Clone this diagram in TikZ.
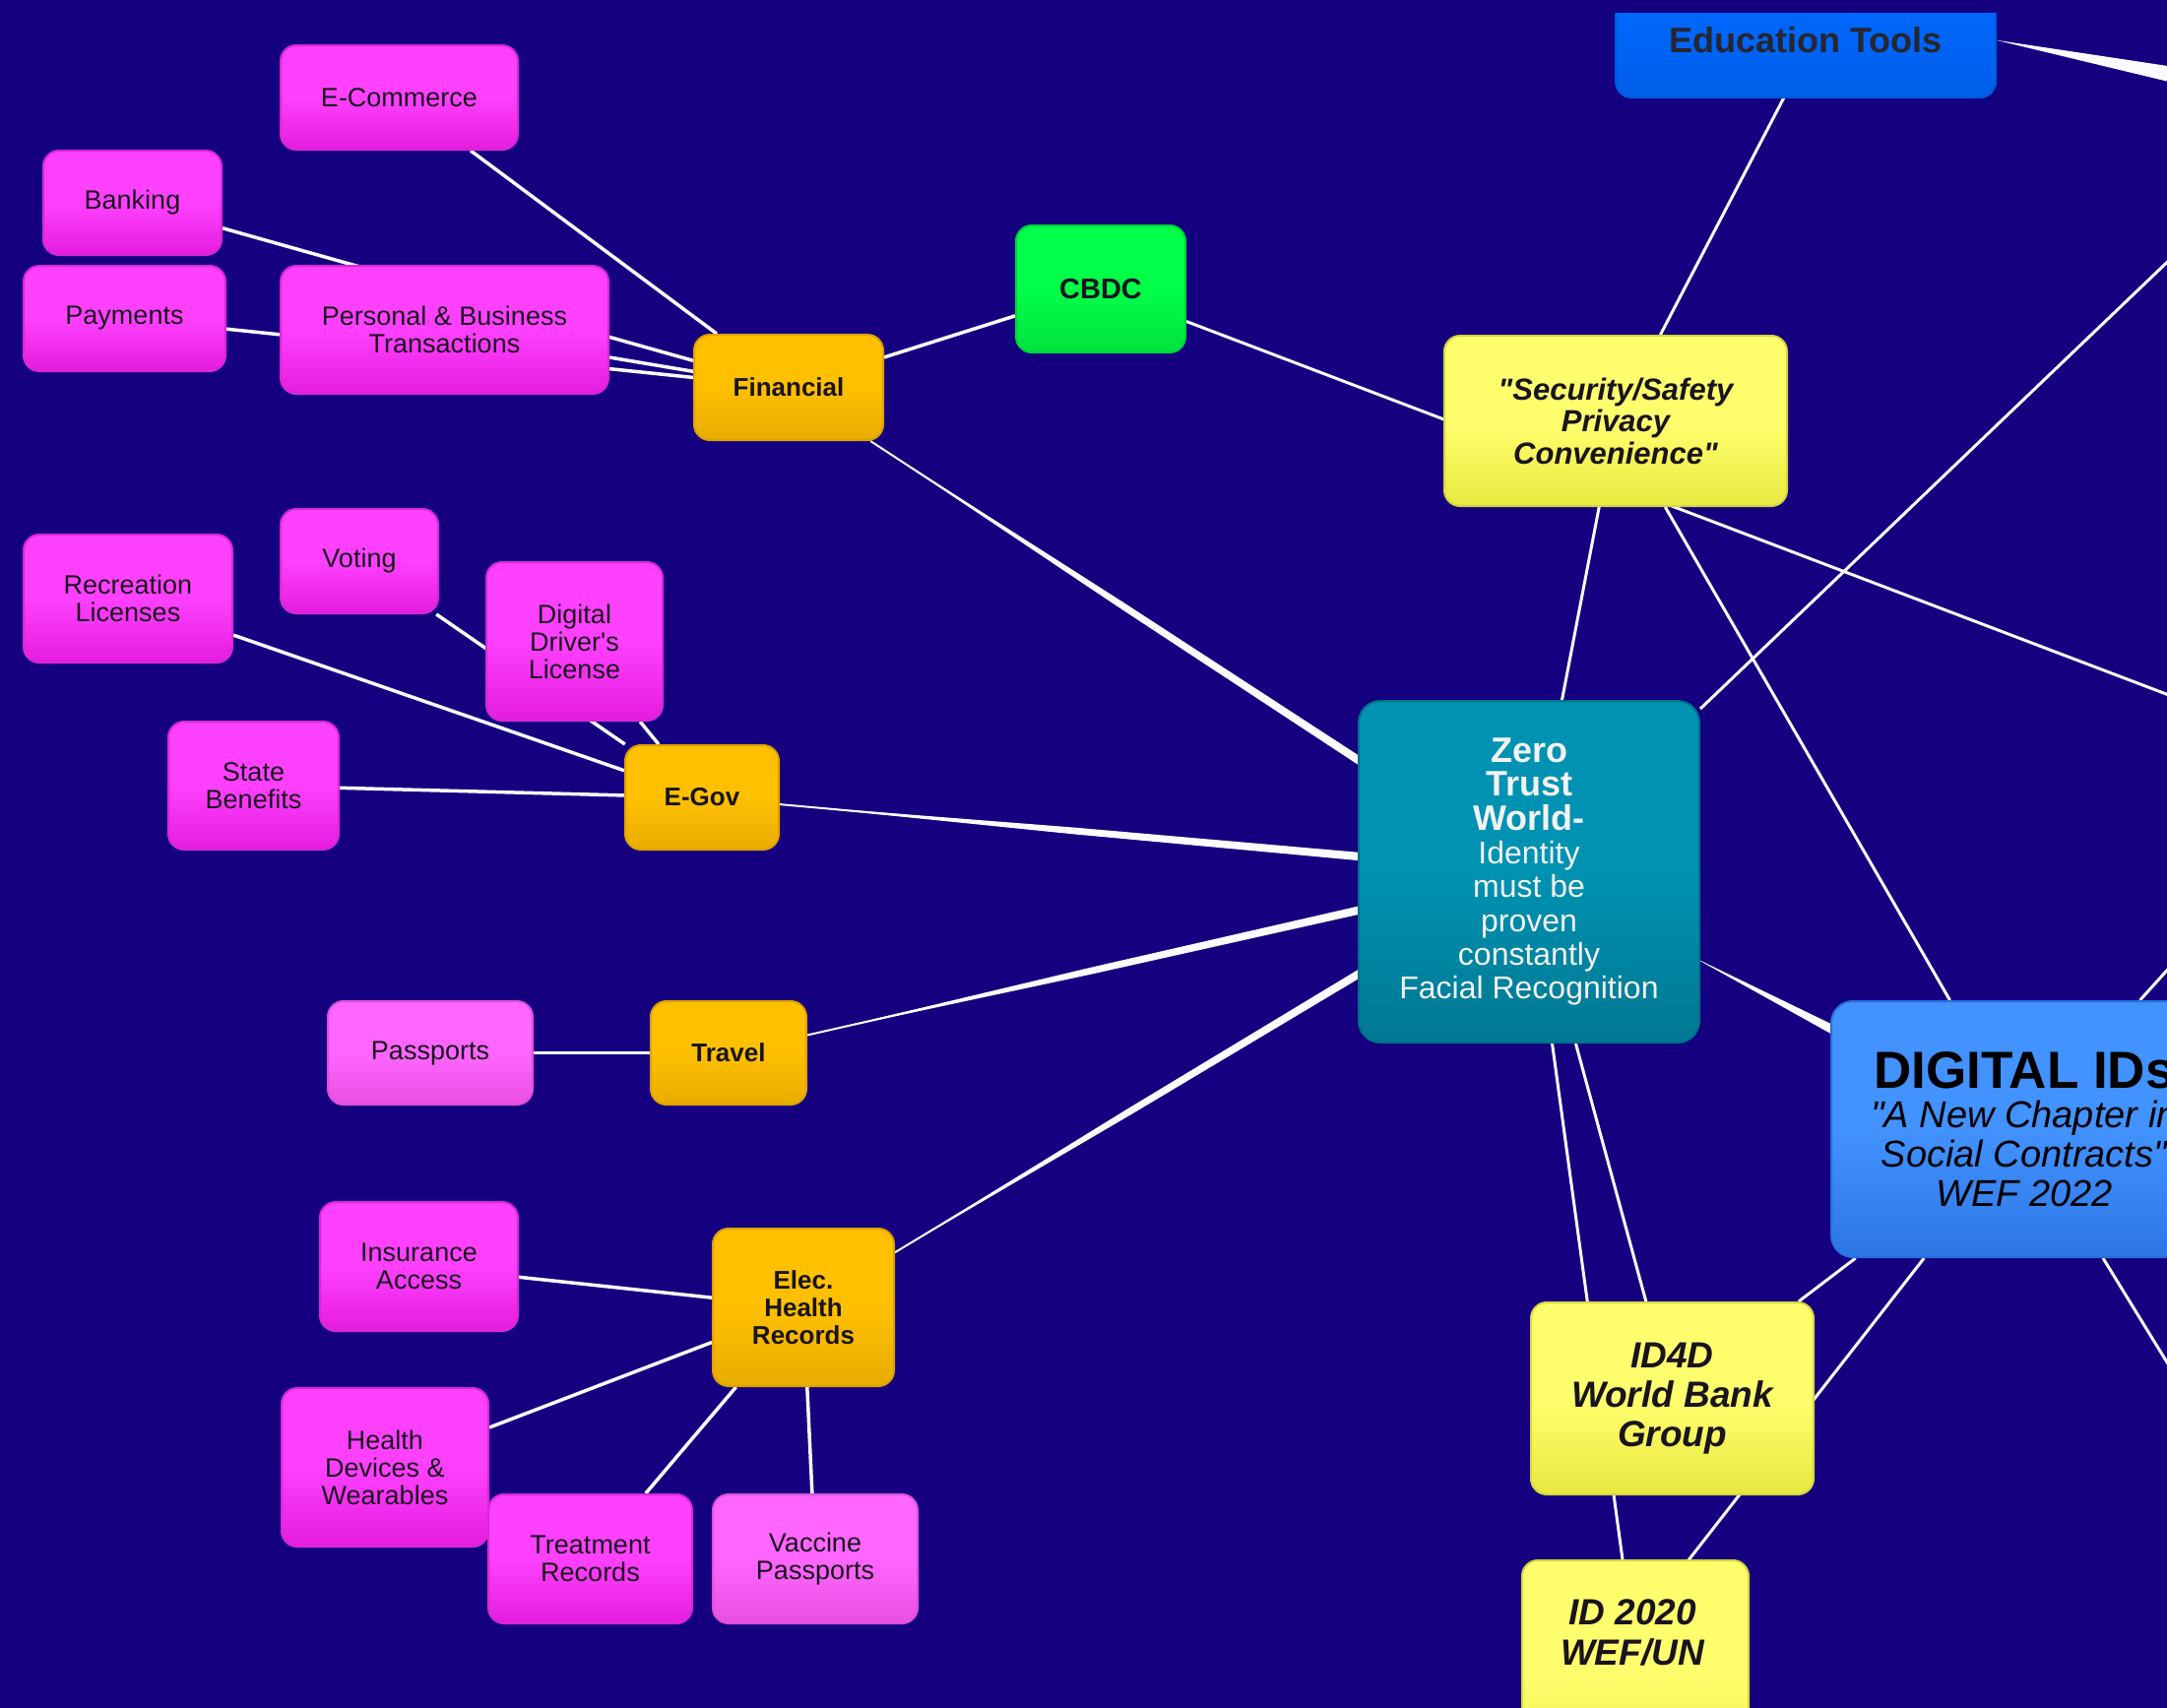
\documentclass[tikz,border=0pt]{standalone}
\usepackage{fontspec}
\setmainfont{Liberation Sans}[Ligatures=TeXOff]
\usetikzlibrary{calc}
\pgfdeclarelayer{background}
\pgfsetlayers{background,main}

\definecolor{bg}{RGB}{21,0,128}
\definecolor{edgec}{RGB}{250,250,255}
\definecolor{leafT}{RGB}{255,64,255}
\definecolor{leafBot}{RGB}{228,28,222}
\definecolor{leafB}{RGB}{214,40,214}
\definecolor{leafLT}{RGB}{255,102,255}
\definecolor{leafLBot}{RGB}{232,80,224}
\definecolor{leafLB}{RGB}{220,80,220}
\definecolor{orgT}{RGB}{255,192,0}
\definecolor{orgBot}{RGB}{232,172,0}
\definecolor{orgB}{RGB}{222,162,0}
\definecolor{grT}{RGB}{0,255,72}
\definecolor{grBot}{RGB}{0,226,62}
\definecolor{grB}{RGB}{0,210,60}
\definecolor{yeT}{RGB}{255,255,110}
\definecolor{yeBot}{RGB}{232,232,64}
\definecolor{yeB}{RGB}{214,214,64}
\definecolor{etT}{RGB}{0,104,255}
\definecolor{etBot}{RGB}{0,94,232}
\definecolor{etB}{RGB}{0,88,220}
\definecolor{digT}{RGB}{66,146,255}
\definecolor{digBot}{RGB}{44,118,228}
\definecolor{digB}{RGB}{40,110,220}
\definecolor{ztT}{RGB}{0,146,178}
\definecolor{ztBot}{RGB}{0,120,146}
\definecolor{ztB}{RGB}{0,112,138}
\definecolor{txt}{RGB}{25,20,30}
\definecolor{ettxt}{RGB}{38,38,48}
\definecolor{ztTxt}{RGB}{242,242,242}

% tapered connector: from #1 towards #2; starts (width 0) at fraction #3,
% half-width #5 at fraction #4, half-width #6 at #2
\newcommand\wedgeedge[6]{%
  \coordinate (w0) at ($(#1)!#3!(#2)$);
  \coordinate (wm) at ($(#1)!#4!(#2)$);
  \fill[edgec] (w0) -- ($(wm)!#5pt!90:(#2)$) -- ($(#2)!#6pt!-90:(#1)$)
     -- ($(#2)!#6pt!90:(#1)$) -- ($(wm)!#5pt!-90:(#2)$) -- cycle;}
\newcommand\ztbold[1]{{\bfseries\fontsize{36}{34.3}\selectfont #1}}

\tikzset{
  sz/.style 2 args={minimum width=#1pt, minimum height=#2pt},
  leafedge/.style={draw=edgec, line width=3.5pt},
  longedge/.style={draw=edgec, line width=3pt},
  thinedge/.style={draw=edgec, line width=2pt},
  box/.style={rounded corners=16pt, inner sep=0pt, align=center, line width=2pt},
  leaf/.style={box, draw=leafB, top color=leafT, bottom color=leafBot, middle color=leafT,
    text=txt, font=\fontsize{27}{28}\selectfont},
  leaflt/.style={leaf, draw=leafLB, top color=leafLT, bottom color=leafLBot, middle color=leafLT},
  catg/.style={box, draw=orgB, top color=orgT, bottom color=orgBot, middle color=orgT,
    text=txt, font=\bfseries\fontsize{26}{28}\selectfont},
  cbdcbox/.style={box, draw=grB, top color=grT, bottom color=grBot, middle color=grT,
    text=txt, font=\bfseries\fontsize{29}{30}\selectfont},
  yellowbox/.style={box, draw=yeB, top color=yeT, bottom color=yeBot, middle color=yeT, text=txt},
  etbox/.style={box, draw=etB, top color=etT, bottom color=etBot, middle color=etT},
  digbox/.style={box, rounded corners=22pt, draw=digB, top color=digT, bottom color=digBot,
    middle color=digT, text=black, font=\fontsize{38}{40}\selectfont},
  ztbox/.style={box, rounded corners=22pt, draw=ztB, top color=ztT, bottom color=ztBot,
    middle color=ztT, text=ztTxt, font=\fontsize{32}{34.3}\selectfont},
}

\begin{document}
\begin{tikzpicture}[x=1pt, y=-1pt]
\useasboundingbox (0,0) rectangle (2201,1735);

% ---------- nodes ----------
\node[leaf, sz={241}{106}] (ecom) at (405.5,99) {E-Commerce};
\node[leaf, sz={181}{106}] (bank) at (134.5,206) {Banking};
\node[leaf, sz={205}{107}] (pay) at (126.5,323.5) {Payments};
\node[leaf, sz={333}{130}] (pb) at (451.5,335) {Personal \& Business\\Transactions};
\node[catg, sz={192}{107}] (fin) at (801,393.5) {Financial};
\node[cbdcbox, sz={172}{129}] (cbdc) at (1118,293.5) {CBDC};
\node[yellowbox, sz={348}{173}, font=\bfseries\itshape\fontsize{31}{32.5}\selectfont]
  (sec) at (1641,427.5) {"Security/Safety\\Privacy\\Convenience"};
\node[etbox, sz={386}{192}] (et) at (1834,3) {};
\node[anchor=base, text=ettxt, font=\bfseries\fontsize{36}{38}\selectfont, inner sep=0pt]
  (ettext) at (1834,53) {Education Tools};

\node[leaf, sz={212}{130}] (rec) at (130,608) {Recreation\\Licenses};
\node[leaf, sz={160}{106}] (vote) at (365,570) {Voting};
\node[leaf, sz={179}{161}] (ddl) at (583.5,651.5) {Digital\\Driver's\\License};
\node[leaf, sz={173}{130}] (state) at (257.5,798) {State\\Benefits};
\node[catg, sz={156}{106}] (egov) at (713,810) {E-Gov};

\node[leaflt, sz={208}{105}] (pass) at (437,1069.5) {Passports};
\node[catg, sz={158}{105}] (travel) at (740,1069.5) {Travel};

\node[ztbox, sz={346}{347}] (zt) at (1553,885.5)
  {\ztbold{Zero}\\\ztbold{Trust}\\\ztbold{World-}\\Identity\\must be\\proven\\constantly\\Facial Recognition};
\node[digbox, sz={392}{260}] (dig) at (2056,1147)
  {{\bfseries\fontsize{53}{40}\selectfont DIGITAL IDs}\\{\itshape "A New Chapter in}\\{\itshape Social Contracts"}\\{\itshape WEF 2022}};

\node[leaf, sz={201}{131}] (ins) at (425.5,1286.5) {Insurance\\Access};
\node[catg, sz={184}{160}] (ehr) at (816,1328) {Elec.\\Health\\Records};
\node[leaf, sz={210}{161}] (hd) at (391,1490.5) {Health\\Devices \&\\Wearables};
\node[leaf, sz={207}{131}] (treat) at (599.5,1583.5) {Treatment\\Records};
\node[leaflt, sz={208}{131}] (vac) at (828,1583.5) {Vaccine\\Passports};

\node[yellowbox, sz={287}{195}, font=\bfseries\itshape\fontsize{37}{40}\selectfont]
  (id4d) at (1698.5,1420.5) {ID4D\\World Bank\\Group};
\node[yellowbox, sz={230}{230}] (idtw) at (1661,1700) {};
\node[text=txt, inner sep=0pt, align=center, font=\bfseries\itshape\fontsize{37}{41}\selectfont]
  (idtwt) at (1658,1658) {ID 2020\\WEF/UN};

% top strip hiding the clipped part of the Education Tools box
\fill[bg] (0,0) rectangle (2201,13);

% off-picture ends
\coordinate (c1) at (2400,781);
\coordinate (c2) at (2300,94);
\coordinate (c3) at (2400,76);
\coordinate (c4) at (2300,1545);
\coordinate (c5) at (2400,765);
\coordinate (etc) at ($(et.center)+(28,0)$);

% ---------- connectors ----------
\begin{pgfonlayer}{background}
\fill[bg] (0,0) rectangle (2201,1735);
% financial branch
\draw[leafedge] (ecom) -- (fin);
\draw[leafedge] (bank) -- (fin);
\draw[leafedge] (pay) -- (fin);
\draw[leafedge] (pb) -- (fin);
\draw[leafedge] (fin) -- (cbdc);
\draw[longedge] (cbdc) -- (c1);
% e-gov branch
\draw[leafedge] (rec) -- (egov);
\draw[leafedge] (vote) -- (egov);
\draw[leafedge] (ddl) -- (egov);
\draw[leafedge] (state) -- (egov);
% travel
\draw[leafedge] (pass) -- (travel);
% health
\draw[leafedge] (ins) -- (ehr);
\draw[leafedge] (hd) -- (ehr);
\draw[leafedge] (treat) -- (ehr);
\draw[leafedge] (vac) -- (ehr);
% tapered branches into Zero Trust
\draw[thinedge] (fin) -- (zt);
\wedgeedge{fin}{zt}{0.1}{0.45}{3.4}{4.6}
\draw[thinedge] (egov) -- (zt);
\wedgeedge{egov}{zt}{0.1}{0.45}{3.4}{4.6}
\draw[thinedge] (travel) -- (zt);
\wedgeedge{travel}{zt}{0.1}{0.45}{3.4}{4.6}
\draw[thinedge] (ehr) -- (zt);
\wedgeedge{ehr}{zt}{0.1}{0.45}{3.4}{4.6}
% Zero Trust to Digital IDs
\wedgeedge{zt}{dig}{0.33}{0.61}{4.5}{5.5}
% Education Tools off to the right
\wedgeedge{et}{c2}{0.414}{0.7}{5.9}{12}
% security
\draw[longedge] (sec) -- (etc);
\draw[longedge] (sec) -- (zt);
\draw[longedge] (sec) -- (dig);
% zero trust
\draw[longedge] (zt) -- (c3);
\draw[longedge] (zt) -- (id4d);
\draw[longedge] (zt) -- (idtwt);
% digital ids
\draw[longedge] (dig) -- (id4d);
\draw[longedge] (dig) -- (idtwt);
\draw[longedge] (dig) -- (c4);
\draw[longedge] (dig) -- (c5);
\end{pgfonlayer}
\end{tikzpicture}
\end{document}
